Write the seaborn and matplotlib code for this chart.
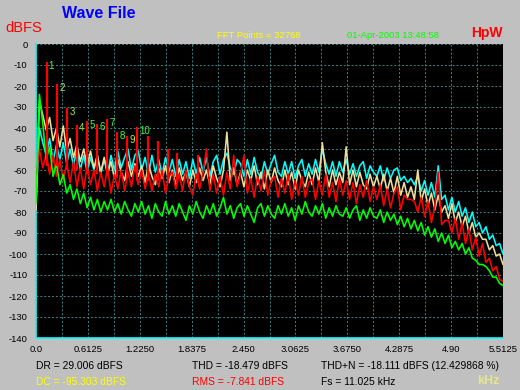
import numpy as np
import pandas as pd
import matplotlib
matplotlib.use("Agg")
import matplotlib.pyplot as plt
import seaborn as sns

# ---------------- data ----------------
cyan_db = [-76, -40, -47, -53, -45, -56, -48, -55, -47, -57,
           -50, -58, -50, -60, -53, -61, -54, -60, -53, -62,
           -55, -62, -53, -60, -51, -59, -54, -50, -60, -53,
           -51, -60, -54, -62, -53, -61, -55, -62, -54, -61,
           -55, -63, -55, -62, -56, -64, -55, -62, -54, -61,
           -54, -63, -56, -53, -62, -55, -52, -59, -62, -55,
           -57, -63, -55, -62, -54, -61, -64, -56, -62, -57,
           -53, -61, -63, -56, -62, -56, -64, -58, -55, -63,
           -57, -62, -55, -61, -50, -57, -62, -56, -63, -56,
           -61, -55, -62, -57, -63, -58, -56, -64, -58, -61,
           -63, -58, -65, -59, -64, -60, -59, -65, -63, -66,
           -64, -67, -63, -70, -65, -72, -66, -73, -58, -74,
           -72, -79, -73, -80, -75, -82, -78, -85, -80, -87,
           -85, -90, -87, -93, -91, -96, -95, -100]

wheat_db = [-79, -27, -34, -41, -35, -46, -40, -49, -39, -51,
            -45, -54, -48, -56, -50, -58, -51, -59, -53, -61,
            -54, -62, -56, -64, -55, -61, -65, -56, -63, -57,
            -63, -58, -66, -57, -63, -67, -59, -64, -58, -66,
            -60, -67, -59, -65, -61, -68, -60, -66, -59, -65,
            -60, -67, -58, -64, -68, -60, -42, -65, -59, -67,
            -61, -68, -60, -65, -58, -67, -61, -69, -60, -66,
            -59, -65, -68, -60, -67, -61, -69, -60, -65, -68,
            -61, -67, -59, -66, -47, -61, -68, -60, -67, -61,
            -66, -49, -67, -60, -68, -61, -67, -69, -62, -68,
            -63, -69, -62, -70, -64, -71, -63, -72, -66, -73,
            -68, -74, -60, -75, -69, -77, -71, -79, -72, -80,
            -77, -83, -76, -85, -80, -87, -82, -90, -85, -92,
            -90, -93, -93, -98, -96, -101, -100, -105]

red_db = [-64, -50, -59, -52, -62, -53, -63, -55, -65, -57,
          -66, -56, -68, -59, -69, -58, -67, -60, -70, -61,
          -68, -59, -71, -62, -69, -60, -70, -61, -68, -58,
          -67, -60, -69, -61, -70, -62, -68, -60, -71, -63,
          -61, -69, -62, -70, -60, -68, -72, -62, -69, -61,
          -50, -70, -62, -71, -63, -72, -61, -69, -53, -68,
          -62, -53, -71, -64, -73, -63, -70, -60, -72, -65,
          -63, -73, -64, -71, -62, -74, -65, -72, -63, -73,
          -66, -64, -74, -65, -72, -62, -73, -66, -75, -64,
          -72, -65, -74, -66, -76, -67, -73, -65, -75, -68,
          -74, -67, -77, -69, -78, -71, -68, -79, -72, -74,
          -74, -75, -80, -73, -82, -75, -85, -77, -61, -86,
          -84, -84, -90, -83, -93, -85, -95, -88, -98, -92,
          -101, -95, -104, -102, -108, -106, -112, -113]

green_db = [-76, -24, -38, -55, -49, -63, -57, -67, -62, -71,
            -67, -74, -69, -76, -71, -78, -73, -79, -74, -80,
            -75, -79, -74, -80, -76, -81, -75, -79, -82, -76,
            -80, -75, -81, -77, -83, -76, -80, -82, -75, -81,
            -77, -82, -76, -80, -84, -77, -81, -75, -80, -83,
            -77, -81, -76, -82, -78, -73, -81, -77, -83, -78,
            -76, -82, -77, -81, -85, -78, -76, -82, -77, -81,
            -83, -77, -81, -76, -82, -78, -84, -77, -81, -75,
            -80, -82, -77, -81, -76, -83, -78, -82, -77, -81,
            -82, -78, -83, -79, -77, -84, -79, -83, -78, -82,
            -83, -79, -85, -80, -84, -81, -86, -82, -87, -83,
            -88, -84, -89, -85, -91, -87, -92, -88, -94, -90,
            -95, -91, -97, -94, -98, -95, -100, -97, -102, -103,
            -105, -105, -106, -108, -111, -111, -114, -115]

# harmonic peaks of the red trace
harm_freq = [0.124, 0.248, 0.366, 0.484, 0.602, 0.720, 0.838, 0.956, 1.074, 1.192,
             1.322, 1.440, 1.558, 1.664, 1.912]
harm_peak = [-8.6, -19, -30.5, -38.5, -36.7, -38, -35.7, -42, -44, -39.5,
             -44, -46, -50, -52, -53]
harm_floor = [-58, -58, -60, -60, -62, -62, -63, -64, -64, -65,
              -65, -65, -66, -66, -66]
harm_labels = ["1", "2", "3", "4", "5", "6", "7", "8", "9", "10"]

y_ticks = list(range(0, -150, -10))
x_ticks = [0.0, 0.6125, 1.2250, 1.8375, 2.450, 3.0625, 3.6750, 4.2875, 4.90, 5.5125]
x_tick_labels = ["0.0", "0.6125", "1.2250", "1.8375", "2.450", "3.0625",
                 "3.6750", "4.2875", "4.90", "5.5125"]

series_names = ["cyan", "wheat", "red", "green"]
series_vals = [cyan_db, wheat_db, red_db, green_db]
for v in series_vals:
    assert len(v) == 138, len(v)

n_bins = len(cyan_db)
freq = np.linspace(0.0, 5.5125, n_bins)

df = pd.concat([pd.DataFrame({"kHz": freq, "dB": vals, "series": name})
                for name, vals in zip(series_names, series_vals)],
               ignore_index=True)

# ---------------- style ----------------
sns.set_style("white")
plt.rcParams["font.family"] = ["Liberation Sans", "DejaVu Sans"]

BG = "#C0C0C0"
palette = {"cyan": "#00FFFF", "wheat": "#EEDD99", "red": "#FF0000", "green": "#00FF00"}

fig = plt.figure(figsize=(5.2, 3.9), dpi=100, facecolor=BG)
ax = fig.add_axes([36 / 520, 1 - 338 / 390, 467 / 520, 294 / 390])
ax.set_facecolor("black")

sns.lineplot(data=df, x="kHz", y="dB", hue="series", hue_order=series_names,
             palette=palette, estimator=None, sort=False, legend=False,
             linewidth=1.15, ax=ax, zorder=3)
# red harmonic spikes
ax.vlines(harm_freq, harm_floor, harm_peak, colors="#FF0000", linewidth=1.6, zorder=3.5)

label_cols = ["#40FF40", "#B8F040", "#A0F040", "#A0F040", "#40FF40",
              "#40FF40", "#40FF40", "#40FF40", "#B8F040", "#40FF40"]
for f, p, lab, c in zip(harm_freq, harm_peak, harm_labels, label_cols):
    ax.annotate(lab, xy=(f, p), xytext=(1.6, -2.6), textcoords="offset points",
                ha="left", va="center", fontsize=7, color=c, zorder=6)

ax.set_xlim(0, 5.5125)
ax.set_ylim(-140, 0)
ax.set_xticks(x_ticks)
ax.set_xticklabels(x_tick_labels)
ax.set_yticks(y_ticks)
ax.set_yticklabels([str(t) for t in y_ticks])
ax.set_xticks(np.arange(0, 5.52, 0.30625), minor=True)
ax.tick_params(axis="both", which="both", length=0, labelsize=6.8, colors="black")
ax.tick_params(axis="y", pad=6)
ax.tick_params(axis="x", pad=5)
ax.set_xlabel("")
ax.set_ylabel("")
ax.grid(True, which="both", color="#3F8585", linestyle=(0, (2, 2)), linewidth=0.7)
ax.set_axisbelow(True)
for s in ["top", "right"]:
    ax.spines[s].set_visible(False)
for s in ["left", "bottom"]:
    ax.spines[s].set_color("#00FFFF")
    ax.spines[s].set_linewidth(1.2)

def ftext(x, y, s, **kw):
    fig.text(x / 520, 1 - y / 390, s, va="center", ha="left", **kw)

ftext(62, 14, "Wave File", fontsize=11.5, fontweight="bold", color="#0000FF")
ftext(5, 28.5, "dBFS", fontsize=10.5, color="#FF0000")
ftext(217, 35, "FFT Points = 32768", fontsize=6.8, color="#FFFF00")
ftext(347, 35, "01-Apr-2003 13:48:58", fontsize=6.8, color="#00FF00")
ftext(471, 33.5, "HpW", fontsize=10, fontweight="bold", color="#FF0000")

ftext(36.5, 366, "DR = 29.006 dBFS", fontsize=7.4, color="black")
ftext(192.5, 366, "THD = -18.479 dBFS", fontsize=7.4, color="black")
ftext(321, 366, "THD+N = -18.111 dBFS (12.429868 %)", fontsize=7.4, color="black")
ftext(36.5, 382, "DC = -95.303 dBFS", fontsize=7.4, color="#FFFF00")
ftext(192.5, 382, "RMS = -7.841 dBFS", fontsize=7.4, color="#FF0000")
ftext(321, 382, "Fs = 11.025 kHz", fontsize=7.4, color="black")
ftext(477, 381, "kHz", fontsize=9, fontweight="bold", color="#E6E68C")

fig.savefig("out.png", dpi=100, facecolor=BG)
